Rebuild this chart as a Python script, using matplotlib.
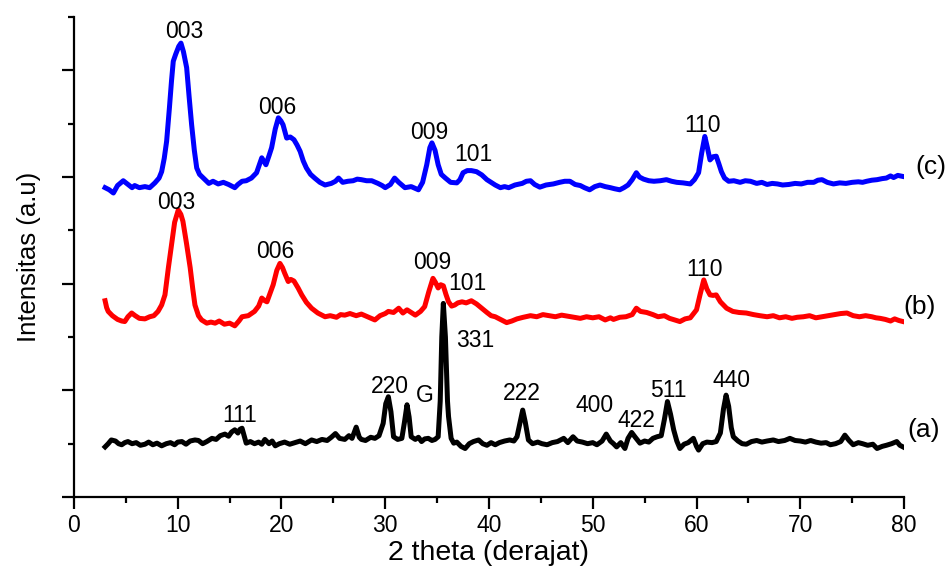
import matplotlib
matplotlib.use("Agg")
import matplotlib.pyplot as plt
from matplotlib.ticker import MultipleLocator, NullFormatter

plt.rcParams['font.family'] = ['Liberation Sans', 'DejaVu Sans']

# ---- data (2theta, intensity in arbitrary offset units) ----
x_c = [3.0, 3.4, 3.8, 4.2, 4.75, 5.2, 5.6, 5.85, 6.3, 6.84, 7.3, 7.8, 8.2, 8.45, 8.7, 8.93, 9.2, 9.4, 9.57, 9.8,
       10.1, 10.31, 10.55, 10.86, 11.1, 11.34, 11.6, 11.83, 12.1, 12.63, 13.0, 13.4, 13.9, 14.4, 14.9, 15.5, 15.8,
       16.2, 16.6, 17.1, 17.6, 18.1, 18.5, 18.8, 19.05, 19.4, 19.7, 19.95, 20.15, 20.5, 20.85, 21.2, 21.5, 21.8,
       22.1, 22.4, 22.8, 23.2, 23.7, 24.2, 24.8, 25.2, 25.5, 25.9, 26.4, 26.9, 27.3, 27.7, 28.2, 28.7, 29.3, 29.7,
       30.0, 30.5, 30.9, 31.3, 31.9, 32.5, 33.2, 33.6, 34.0, 34.3, 34.5, 34.8, 35.1, 35.4, 35.8, 36.3, 36.9, 37.2,
       37.5, 37.9, 38.3, 38.8, 39.3, 39.8, 40.2, 40.6, 41.1, 41.5, 41.9, 42.5, 43.2, 43.6, 44.0, 44.4, 44.9, 45.5,
       46.2, 46.8, 47.3, 47.8, 48.3, 48.8, 49.2, 49.7, 50.2, 50.7, 51.2, 51.7, 52.1, 52.6, 53.0, 53.4, 53.8, 54.2,
       54.5, 54.9, 55.4, 55.9, 56.5, 57.1, 57.6, 58.1, 58.7, 59.4, 59.8, 60.2, 60.5, 60.8, 61.05, 61.3, 61.6, 61.9,
       62.15, 62.4, 62.7, 63.1, 63.6, 64.2, 64.7, 65.2, 65.8, 66.3, 66.8, 67.3, 67.8, 68.3, 68.9, 69.5, 70.1, 70.7,
       71.3, 71.7, 72.1, 72.6, 73.2, 73.8, 74.4, 75.0, 75.6, 76.0, 76.4, 76.9, 77.4, 77.9, 78.3, 78.7, 79.0, 79.4,
       79.9]
y_c = [5.80, 5.76, 5.70, 5.84, 5.93, 5.86, 5.80, 5.84, 5.80, 5.82, 5.80, 5.89, 5.98, 6.10, 6.35, 6.67, 7.30, 7.80,
       8.17, 8.30, 8.45, 8.51, 8.35, 8.05, 7.50, 6.98, 6.50, 6.17, 6.05, 5.95, 5.88, 5.92, 5.87, 5.90, 5.86, 5.80,
       5.86, 5.92, 5.93, 5.98, 6.08, 6.36, 6.23, 6.40, 6.55, 6.90, 7.11, 7.05, 6.98, 6.73, 6.75, 6.70, 6.60, 6.48,
       6.30, 6.17, 6.05, 5.98, 5.90, 5.85, 5.88, 5.92, 5.98, 5.90, 5.92, 5.93, 5.96, 5.95, 5.93, 5.93, 5.88, 5.84,
       5.80, 5.86, 5.98, 5.90, 5.80, 5.82, 5.76, 5.90, 6.23, 6.55, 6.64, 6.50, 6.23, 6.05, 5.98, 5.90, 5.89, 5.95,
       6.08, 6.12, 6.12, 6.10, 6.04, 5.95, 5.90, 5.85, 5.80, 5.82, 5.80, 5.85, 5.88, 5.92, 5.93, 5.86, 5.81, 5.85,
       5.87, 5.90, 5.92, 5.92, 5.86, 5.84, 5.80, 5.76, 5.82, 5.85, 5.82, 5.80, 5.78, 5.76, 5.80, 5.85, 5.95, 6.08,
       6.00, 5.96, 5.93, 5.92, 5.93, 5.95, 5.92, 5.90, 5.89, 5.87, 5.95, 6.08, 6.45, 6.76, 6.55, 6.32, 6.38, 6.39,
       6.25, 6.10, 5.98, 5.92, 5.93, 5.90, 5.93, 5.92, 5.88, 5.90, 5.86, 5.88, 5.87, 5.85, 5.86, 5.88, 5.87, 5.90,
       5.90, 5.94, 5.95, 5.90, 5.87, 5.89, 5.88, 5.90, 5.91, 5.90, 5.92, 5.94, 5.95, 5.97, 5.98, 6.02, 5.99, 6.03,
       6.01]

x_b = [3.0, 3.15, 3.3, 3.7, 4.2, 4.6, 4.9, 5.2, 5.56, 5.9, 6.3, 6.84, 7.3, 7.7, 8.1, 8.45, 8.77, 9.1, 9.4, 9.7,
       10.05, 10.3, 10.5, 10.85, 11.2, 11.45, 11.66, 12.0, 12.3, 12.8, 13.2, 13.6, 14.0, 14.5, 15.0, 15.5, 15.9,
       16.2, 16.8, 17.4, 17.8, 18.1, 18.4, 18.6, 18.9, 19.2, 19.55, 19.85, 20.1, 20.3, 20.65, 20.9, 21.2, 21.6,
       21.95, 22.4, 22.9, 23.5, 24.2, 24.7, 25.3, 25.7, 26.1, 26.6, 27.2, 27.7, 28.3, 29.0, 29.5, 30.0, 30.3, 30.8,
       31.3, 31.7, 32.1, 32.5, 32.9, 33.4, 33.8, 34.2, 34.6, 34.85, 35.1, 35.35, 35.6, 35.85, 36.1, 36.4, 36.7,
       37.0, 37.4, 37.8, 38.3, 38.8, 39.3, 39.8, 40.2, 40.6, 41.2, 41.7, 42.2, 42.7, 43.3, 44.0, 44.6, 45.2, 45.8,
       46.4, 47.0, 47.6, 48.2, 48.8, 49.4, 50.0, 50.6, 51.2, 51.7, 52.0, 52.6, 53.2, 53.8, 54.2, 54.6, 55.2, 55.8,
       56.3, 56.9, 57.4, 57.9, 58.4, 58.9, 59.4, 60.0, 60.35, 60.7, 61.0, 61.3, 61.6, 61.9, 62.3, 62.9, 63.5, 64.1,
       64.8, 65.5, 66.1, 66.8, 67.4, 68.0, 68.6, 69.2, 69.7, 70.3, 70.9, 71.5, 72.1, 72.7, 73.3, 73.9, 74.5, 75.1,
       75.7, 76.3, 76.9, 77.3, 77.7, 78.2, 78.7, 79.1, 79.5, 79.9]
y_b = [3.68, 3.55, 3.48, 3.40, 3.33, 3.30, 3.29, 3.38, 3.45, 3.40, 3.35, 3.34, 3.38, 3.40, 3.48, 3.60, 3.79, 4.30,
       4.73, 5.15, 5.38, 5.30, 5.17, 4.75, 4.30, 3.90, 3.60, 3.40, 3.32, 3.26, 3.28, 3.26, 3.30, 3.24, 3.26, 3.21,
       3.30, 3.38, 3.40, 3.48, 3.58, 3.73, 3.68, 3.66, 3.82, 3.98, 4.25, 4.38, 4.30, 4.20, 4.04, 4.08, 4.05, 3.92,
       3.79, 3.65, 3.54, 3.45, 3.38, 3.40, 3.37, 3.42, 3.41, 3.44, 3.40, 3.43, 3.38, 3.32, 3.40, 3.44, 3.48, 3.46,
       3.54, 3.45, 3.51, 3.46, 3.41, 3.48, 3.57, 3.85, 4.10, 4.02, 3.92, 3.98, 3.96, 3.80, 3.66, 3.58, 3.60, 3.64,
       3.66, 3.64, 3.68, 3.62, 3.54, 3.46, 3.40, 3.38, 3.32, 3.27, 3.30, 3.34, 3.37, 3.40, 3.38, 3.42, 3.40, 3.38,
       3.41, 3.39, 3.37, 3.35, 3.38, 3.36, 3.38, 3.32, 3.36, 3.33, 3.37, 3.38, 3.42, 3.54, 3.48, 3.46, 3.42, 3.38,
       3.40, 3.35, 3.32, 3.29, 3.34, 3.36, 3.51, 3.80, 4.07, 3.90, 3.79, 3.78, 3.79, 3.66, 3.54, 3.48, 3.46, 3.45,
       3.42, 3.40, 3.38, 3.40, 3.36, 3.38, 3.35, 3.37, 3.38, 3.40, 3.36, 3.38, 3.40, 3.42, 3.44, 3.45, 3.40, 3.38,
       3.40, 3.38, 3.36, 3.35, 3.33, 3.30, 3.34, 3.31, 3.29]

x_a = [3.0, 3.3, 3.6, 4.0, 4.3, 4.6, 4.9, 5.2, 5.6, 6.0, 6.4, 6.84, 7.2, 7.6, 8.0, 8.45, 8.9, 9.3, 9.7, 10.0, 10.4,
       10.8, 11.2, 11.66, 12.0, 12.4, 12.8, 13.3, 13.7, 14.1, 14.55, 14.9, 15.2, 15.5, 15.8, 16.0, 16.2, 16.4, 16.6,
       17.0, 17.4, 17.8, 18.1, 18.4, 18.8, 19.1, 19.4, 19.8, 20.3, 20.8, 21.3, 21.8, 22.3, 22.9, 23.4, 23.9, 24.4,
       24.8, 25.2, 25.6, 26.1, 26.5, 26.8, 27.2, 27.5, 27.7, 28.1, 28.6, 29.0, 29.4, 29.8, 30.05, 30.3, 30.55,
       30.8, 31.2, 31.6, 31.85, 32.1, 32.3, 32.5, 32.9, 33.2, 33.5, 33.8, 34.15, 34.5, 34.8, 35.1, 35.3, 35.45,
       35.6, 35.8, 36.0, 36.1, 36.35, 36.6, 36.9, 37.3, 37.7, 38.1, 38.5, 39.0, 39.4, 39.8, 40.2, 40.6, 41.0, 41.5,
       42.0, 42.4, 42.7, 43.0, 43.25, 43.5, 43.8, 44.2, 44.7, 45.1, 45.6, 46.1, 46.6, 47.2, 47.6, 48.1, 48.5, 49.0,
       49.5, 50.0, 50.4, 50.9, 51.3, 51.7, 52.0, 52.3, 52.7, 53.1, 53.4, 53.75, 54.1, 54.55, 55.0, 55.4, 55.8,
       56.2, 56.6, 56.9, 57.2, 57.5, 57.8, 58.1, 58.4, 58.8, 59.2, 59.7, 60.0, 60.2, 60.6, 61.0, 61.5, 61.9, 62.3,
       62.6, 62.85, 63.1, 63.35, 63.55, 64.0, 64.4, 64.8, 65.3, 65.8, 66.3, 66.8, 67.4, 67.9, 68.5, 69.0, 69.5,
       70.0, 70.5, 71.0, 71.5, 72.0, 72.5, 72.9, 73.4, 73.9, 74.3, 74.7, 75.1, 75.6, 76.0, 76.5, 77.0, 77.4, 77.9,
       78.3, 78.8, 79.3, 79.6, 79.9]
y_a = [0.94, 1.00, 1.07, 1.05, 1.00, 0.98, 1.02, 1.04, 1.00, 1.02, 0.97, 0.99, 1.03, 0.98, 1.01, 0.96, 1.00, 1.02,
       0.98, 1.03, 1.04, 0.99, 1.05, 1.07, 1.06, 1.00, 1.04, 1.10, 1.08, 1.15, 1.18, 1.14, 1.22, 1.26, 1.20, 1.27,
       1.29, 1.15, 1.01, 1.04, 1.00, 1.03, 0.99, 1.08, 1.00, 1.05, 0.96, 1.00, 1.03, 0.99, 1.02, 1.05, 1.00, 1.07,
       1.04, 1.08, 1.06, 1.12, 1.19, 1.10, 1.08, 1.15, 1.10, 1.31, 1.12, 1.08, 1.06, 1.12, 1.10, 1.15, 1.38, 1.75,
       1.88, 1.60, 1.13, 1.08, 1.10, 1.40, 1.73, 1.50, 1.13, 1.08, 1.12, 1.04, 1.09, 1.10, 1.06, 1.08, 1.13, 1.80,
       3.00, 3.63, 3.00, 1.80, 1.51, 1.10, 1.01, 1.03, 0.95, 0.91, 1.00, 1.04, 1.07, 1.00, 0.97, 1.02, 0.98, 1.02,
       1.05, 1.07, 1.05, 1.13, 1.40, 1.63, 1.40, 1.07, 1.00, 1.03, 1.00, 0.98, 1.02, 1.04, 1.10, 1.02, 1.13, 1.05,
       1.03, 1.00, 1.02, 0.98, 1.05, 1.18, 1.05, 1.00, 0.94, 1.02, 0.91, 1.10, 1.21, 1.12, 1.01, 1.05, 1.03, 1.10,
       1.13, 1.15, 1.45, 1.79, 1.55, 1.26, 1.05, 0.91, 0.99, 1.02, 1.10, 0.95, 0.88, 1.00, 1.03, 1.02, 1.04, 1.20,
       1.65, 1.91, 1.70, 1.30, 1.13, 1.05, 1.00, 0.99, 1.04, 1.06, 1.03, 1.05, 1.07, 1.04, 1.06, 1.10, 1.06, 1.05,
       1.03, 1.06, 1.03, 1.01, 1.02, 0.98, 1.00, 1.04, 1.16, 1.06, 0.98, 1.02, 1.00, 0.97, 0.99, 0.91, 0.95, 0.97,
       1.00, 1.04, 0.97, 0.94]

# peak annotations: (text, x, y)
labels_c = ["003", "006", "009", "101", "110"]
lx_c = [10.6, 19.6, 34.2, 38.5, 60.6]
ly_c = [8.72, 7.30, 6.84, 6.42, 6.96]

labels_b = ["003", "006", "009", "101", "110"]
lx_b = [9.9, 19.4, 34.55, 37.9, 60.8]
ly_b = [5.52, 4.60, 4.40, 4.01, 4.26]

labels_a = ["111", "220", "G", "331", "222", "400", "422", "511", "440"]
lx_a = [16.0, 30.4, 33.8, 38.7, 43.2, 50.2, 54.2, 57.3, 63.4]
ly_a = [1.52, 2.08, 1.91, 2.93, 1.95, 1.71, 1.43, 1.99, 2.19]

series_names = ["(c)", "(b)", "(a)"]
series_name_x = [82.6, 81.5, 81.9]
series_name_y = [6.19, 3.56, 1.26]

fig = plt.figure(figsize=(9.52, 5.74), dpi=100)
ax = fig.add_axes([0.0777, 0.1341, 0.8719, 0.8363])

lw = 3.6
ax.plot(x_c, y_c, color="#0000ff", lw=lw, solid_joinstyle="round")
ax.plot(x_b, y_b, color="#ff0000", lw=lw, solid_joinstyle="round")
ax.plot(x_a, y_a, color="black", lw=lw, solid_joinstyle="round")

fs_peak = 16.5
for t, x, y in zip(labels_c, lx_c, ly_c):
    ax.text(x, y, t, ha="center", va="center", fontsize=fs_peak)
for t, x, y in zip(labels_b, lx_b, ly_b):
    ax.text(x, y, t, ha="center", va="center", fontsize=fs_peak)
for t, x, y in zip(labels_a, lx_a, ly_a):
    ax.text(x, y, t, ha="center", va="center", fontsize=fs_peak)
for t, x, y in zip(series_names, series_name_x, series_name_y):
    ax.text(x, y, t, ha="center", va="center", fontsize=19, clip_on=False)

ax.set_xlim(0, 80)
ax.set_ylim(0, 9)
ax.xaxis.set_major_locator(MultipleLocator(10))
ax.xaxis.set_minor_locator(MultipleLocator(5))
ax.yaxis.set_major_locator(MultipleLocator(2))
ax.yaxis.set_minor_locator(MultipleLocator(1))
ax.yaxis.set_major_formatter(NullFormatter())
ax.spines["top"].set_visible(False)
ax.spines["right"].set_visible(False)
for s in ("left", "bottom"):
    ax.spines[s].set_linewidth(1.6)
ax.tick_params(axis="both", which="major", direction="out", length=8.5, width=1.6, labelsize=16.5)
ax.tick_params(axis="both", which="minor", direction="out", length=4.5, width=1.6)
ax.tick_params(axis="x", which="major", pad=4)

ax.set_xlabel("2 theta (derajat)", fontsize=20.5, labelpad=2)
ax.set_ylabel("Intensitas (a.u)", fontsize=18.5, labelpad=12)

fig.savefig("out.png", dpi=100)
